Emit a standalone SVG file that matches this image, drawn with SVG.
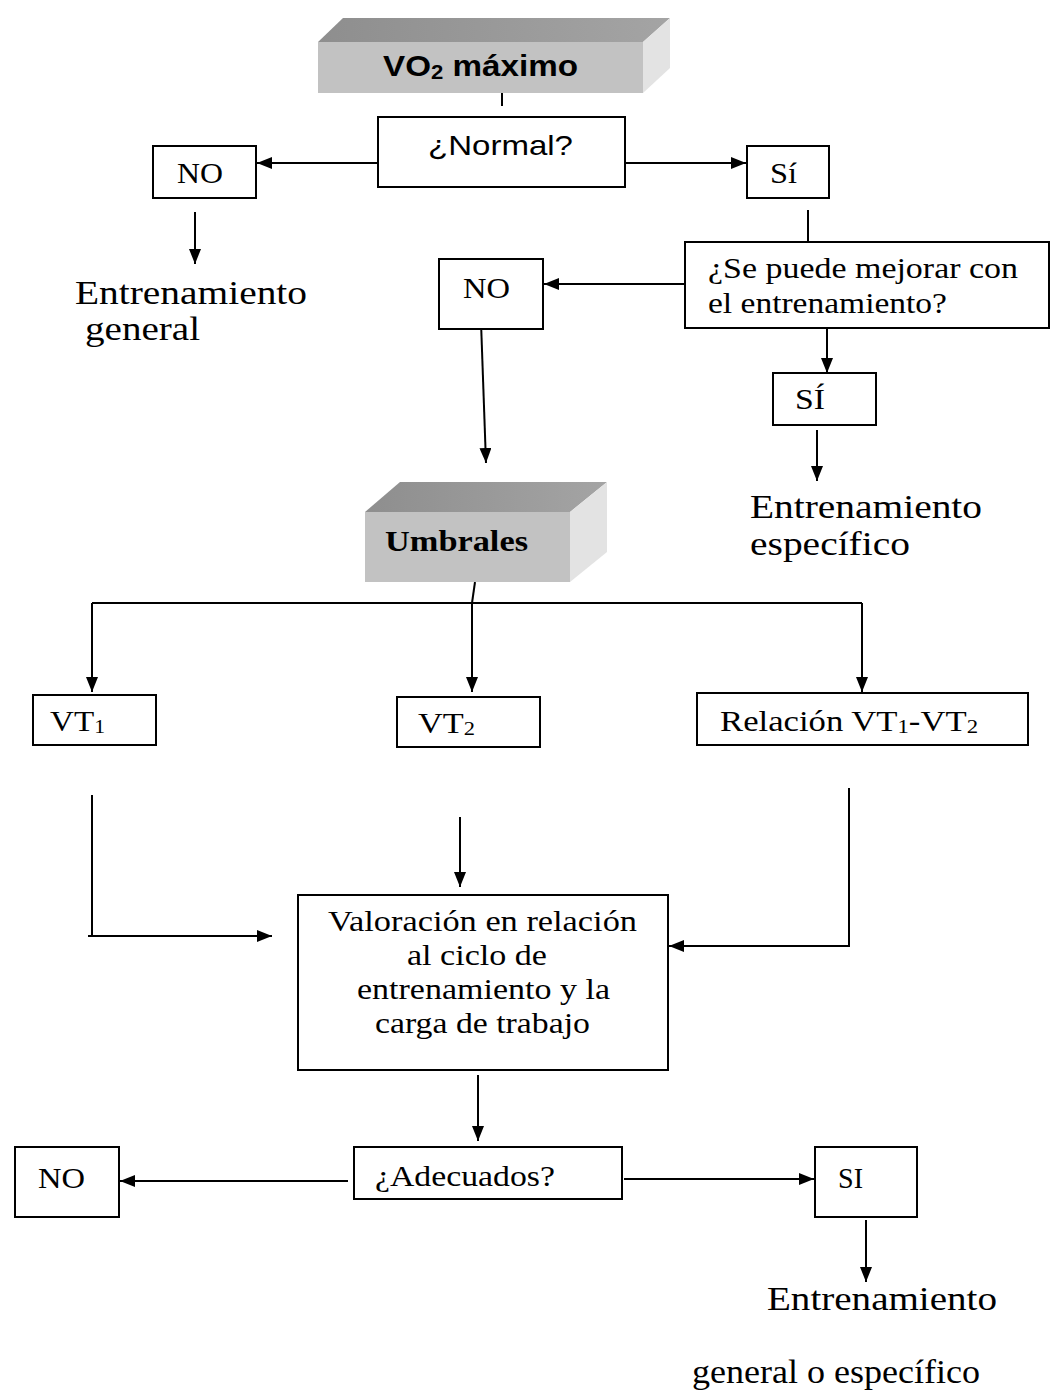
<svg xmlns="http://www.w3.org/2000/svg" width="1051" height="1398" viewBox="0 0 1051 1398">
<defs>
<marker id="ah" markerUnits="userSpaceOnUse" markerWidth="15" markerHeight="12" refX="15" refY="6" orient="auto">
<path d="M0,0 L15,6 L0,12 z" fill="#000"/>
</marker>
<linearGradient id="topg" x1="0" y1="0" x2="1" y2="0">
<stop offset="0" stop-color="#8e8e8e"/>
<stop offset="1" stop-color="#a4a4a4"/>
</linearGradient>
<style>
.box{fill:#fff;stroke:#000;stroke-width:2}
.t{font-family:"Liberation Serif","Times New Roman",serif;font-size:29px;fill:#000}
.big{font-family:"Liberation Serif","Times New Roman",serif;font-size:33px;fill:#000}
.sans{font-family:"Liberation Sans",Arial,sans-serif;fill:#000}
.c{fill:none;stroke:#000;stroke-width:2}
.a{fill:none;stroke:#000;stroke-width:2;marker-end:url(#ah)}
.front{fill:#c2c2c2}
.top{fill:url(#topg)}
.side{fill:#e3e3e3}
</style>
</defs>
<rect width="1051" height="1398" fill="#fff"/>

<g id="connectors">
<line class="c" x1="502" y1="75" x2="502" y2="106"/>
<line class="a" x1="378" y1="163" x2="257" y2="163"/>
<line class="a" x1="625" y1="163" x2="746" y2="163"/>
<line class="a" x1="195" y1="212" x2="195" y2="264"/>
<line class="c" x1="808" y1="210" x2="808" y2="242"/>
<line class="a" x1="685" y1="284" x2="544" y2="284"/>
<line class="a" x1="481" y1="322" x2="486" y2="463"/>
<line class="a" x1="827" y1="328" x2="827" y2="373"/>
<line class="a" x1="817" y1="430" x2="817" y2="481"/>
<line class="c" x1="475" y1="582" x2="472" y2="603"/>
<line class="c" x1="92" y1="603" x2="862" y2="603"/>
<line class="a" x1="92" y1="603" x2="92" y2="692"/>
<line class="a" x1="472" y1="603" x2="472" y2="692"/>
<line class="a" x1="862" y1="603" x2="862" y2="692"/>
<path class="a" d="M92,795 L92,936 M88,936 L272,936"/>
<line class="a" x1="460" y1="817" x2="460" y2="887"/>
<path class="a" d="M849,788 L849,946 L669,946"/>
<line class="a" x1="478" y1="1075" x2="478" y2="1141"/>
<line class="a" x1="348" y1="1181" x2="120" y2="1181"/>
<line class="a" x1="624" y1="1179" x2="814" y2="1179"/>
<line class="a" x1="866" y1="1220" x2="866" y2="1282"/>
</g>

<g id="vo2max">
<polygon class="top" points="318,42 343,18 670,18 643,42"/>
<polygon class="side" points="643,42 670,18 670,68 643,93"/>
<rect class="front" x="318" y="42" width="325" height="51"/>
<text class="sans" x="383" y="76" font-size="30" font-weight="bold" textLength="195" lengthAdjust="spacingAndGlyphs">VO<tspan font-size="20" dy="3">2</tspan><tspan dy="-3"> máximo</tspan></text>
</g>

<g id="normal">
<rect class="box" x="378" y="117" width="247" height="70"/>
<text class="sans" x="428" y="155" font-size="28" textLength="145" lengthAdjust="spacingAndGlyphs">¿Normal?</text>
</g>

<g id="no1">
<rect class="box" x="153" y="146" width="103" height="52"/>
<text class="t" x="177" y="183" textLength="46" lengthAdjust="spacingAndGlyphs">NO</text>
</g>
<g id="ent-general">
<text class="big" x="75" y="304" textLength="232" lengthAdjust="spacingAndGlyphs">Entrenamiento</text>
<text class="big" x="85" y="340" textLength="115" lengthAdjust="spacingAndGlyphs">general</text>
</g>

<g id="si1">
<rect class="box" x="747" y="146" width="82" height="52"/>
<text class="t" x="770" y="183" textLength="27" lengthAdjust="spacingAndGlyphs">Sí</text>
</g>

<g id="mejorar">
<rect class="box" x="685" y="242" width="364" height="86"/>
<text class="t" x="708" y="278" font-size="30" textLength="310" lengthAdjust="spacingAndGlyphs">¿Se puede mejorar con</text>
<text class="t" x="708" y="313" font-size="30" textLength="239" lengthAdjust="spacingAndGlyphs">el entrenamiento?</text>
</g>

<g id="no2">
<rect class="box" x="439" y="259" width="104" height="70"/>
<text class="t" x="463" y="298" textLength="47" lengthAdjust="spacingAndGlyphs">NO</text>
</g>

<g id="si2">
<rect class="box" x="773" y="373" width="103" height="52"/>
<text class="t" x="795" y="409" textLength="30" lengthAdjust="spacingAndGlyphs">SÍ</text>
</g>
<g id="ent-especifico">
<text class="big" x="750" y="518" textLength="232" lengthAdjust="spacingAndGlyphs">Entrenamiento</text>
<text class="big" x="750" y="555" textLength="160" lengthAdjust="spacingAndGlyphs">específico</text>
</g>

<g id="umbrales">
<polygon class="top" points="365,512 400,482 607,482 570,512"/>
<polygon class="side" points="570,512 607,482 607,552 570,582"/>
<rect class="front" x="365" y="512" width="205" height="70"/>
<text class="t" x="385" y="551" font-size="30" font-weight="bold" textLength="143" lengthAdjust="spacingAndGlyphs">Umbrales</text>
</g>

<g id="vt1">
<rect class="box" x="33" y="695" width="123" height="50"/>
<text class="t" x="50" y="731" textLength="55" lengthAdjust="spacingAndGlyphs">VT<tspan font-size="19" dy="2">1</tspan></text>
</g>
<g id="vt2">
<rect class="box" x="397" y="697" width="143" height="50"/>
<text class="t" x="418" y="733" textLength="57" lengthAdjust="spacingAndGlyphs">VT<tspan font-size="19" dy="2">2</tspan></text>
</g>
<g id="relacion">
<rect class="box" x="697" y="693" width="331" height="52"/>
<text class="t" x="720" y="731" textLength="258" lengthAdjust="spacingAndGlyphs">Relación VT<tspan font-size="19" dy="2">1</tspan><tspan dy="-2">-VT</tspan><tspan font-size="19" dy="2">2</tspan></text>
</g>

<g id="valoracion">
<rect class="box" x="298" y="895" width="370" height="175"/>
<text class="t" x="328" y="931" font-size="30" textLength="309" lengthAdjust="spacingAndGlyphs">Valoración en relación</text>
<text class="t" x="407" y="965" font-size="30" textLength="140" lengthAdjust="spacingAndGlyphs">al ciclo de</text>
<text class="t" x="357" y="999" font-size="30" textLength="253" lengthAdjust="spacingAndGlyphs">entrenamiento y la</text>
<text class="t" x="375" y="1033" font-size="30" textLength="215" lengthAdjust="spacingAndGlyphs">carga de trabajo</text>
</g>

<g id="adecuados">
<rect class="box" x="354" y="1147" width="268" height="52"/>
<text class="t" x="375" y="1186" textLength="180" lengthAdjust="spacingAndGlyphs">¿Adecuados?</text>
</g>
<g id="no3">
<rect class="box" x="15" y="1147" width="104" height="70"/>
<text class="t" x="38" y="1188" textLength="47" lengthAdjust="spacingAndGlyphs">NO</text>
</g>
<g id="si3">
<rect class="box" x="815" y="1147" width="102" height="70"/>
<text class="t" x="838" y="1188" textLength="25" lengthAdjust="spacingAndGlyphs">SI</text>
</g>
<g id="ent-final">
<text class="big" x="767" y="1310" textLength="230" lengthAdjust="spacingAndGlyphs">Entrenamiento</text>
<text class="big" x="692" y="1383" textLength="288" lengthAdjust="spacingAndGlyphs">general o específico</text>
</g>
</svg>
